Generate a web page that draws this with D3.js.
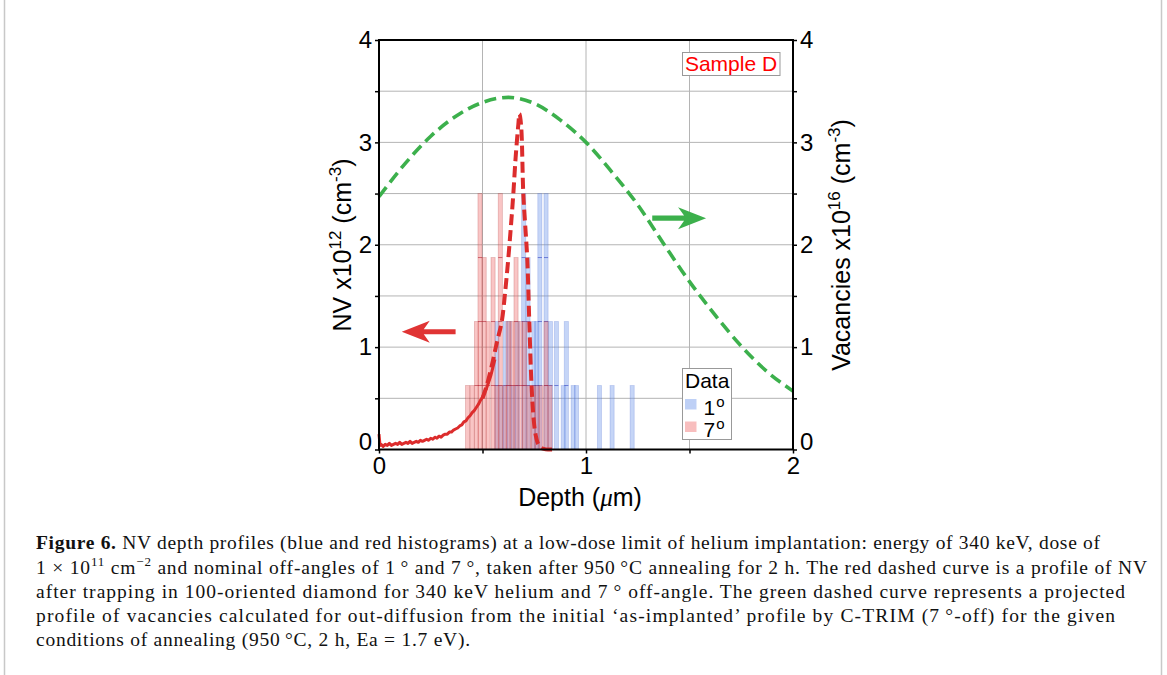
<!DOCTYPE html>
<html><head><meta charset="utf-8">
<script src="https://cdn.jsdelivr.net/npm/d3@7"></script>
<style>
html,body{margin:0;padding:0;background:#fff;}
svg{display:block;}
</style></head>
<body>
<svg id="chart" width="1167" height="675"></svg>
<script>
// ---------------- DATA ----------------
const xTicks = [0, 0.5, 1, 1.5, 2];
const xTickLabels = ["0", "", "1", "", "2"];
const yTicks = [0, 0.5, 1, 1.5, 2, 2.5, 3, 3.5, 4];
const yTickLabels = ["0", "", "1", "", "2", "", "3", "", "4"];
const nvUnit = 0.625;           // height of one histogram count (NV x10^12 cm^-3)
const binWidth = 0.02;          // µm

// 7° histogram (red): bar left edge depth (µm) and NV value
const red7Depth = [0.418, 0.440, 0.461, 0.478, 0.498, 0.517, 0.541, 0.560, 0.576, 0.597, 0.614, 0.633, 0.652, 0.674, 0.693, 0.715, 0.734, 0.754, 0.773, 0.797, 0.816];
const red7NV    = [0.625, 0.625, 1.25, 2.5, 1.875, 1.25, 1.875, 0.625, 2.5, 0.625, 1.25, 1.25, 1.875, 1.25, 1.25, 0.625, 0.625, 0.625, 0.625, 1.25, 0.625];

// 1° histogram (blue)
const blue1Depth = [0.560, 0.582, 0.601, 0.621, 0.640, 0.659, 0.689, 0.710, 0.738, 0.752, 0.767, 0.797, 0.818, 0.847, 0.880, 0.895, 0.928, 0.944, 1.055, 1.116, 1.213];
const blue1NV    = [1.25, 0.625, 1.25, 1.25, 0.625, 1.25, 2.5, 1.875, 1.25, 1.25, 2.5, 2.5, 1.25, 1.25, 0.625, 1.25, 0.625, 0.625, 0.625, 0.625, 0.625];

// NV profile (red, measured part – solid)
const nvDepth = [0, 0.005, 0.01, 0.02, 0.03, 0.04, 0.05, 0.06, 0.07, 0.08, 0.09, 0.10, 0.11, 0.12, 0.13, 0.14, 0.15, 0.16, 0.17, 0.18, 0.19, 0.20, 0.21, 0.22, 0.23, 0.24, 0.25, 0.26, 0.27, 0.28, 0.29, 0.30, 0.31, 0.32, 0.33, 0.34, 0.35, 0.36, 0.37, 0.38, 0.39, 0.40, 0.41, 0.42, 0.43, 0.44, 0.45, 0.46, 0.47, 0.48, 0.49, 0.50, 0.51, 0.52, 0.53, 0.54, 0.55, 0.56];
const nvValue = [0.15, 0.04, 0.05, 0.03, 0.05, 0.04, 0.06, 0.04, 0.05, 0.06, 0.05, 0.07, 0.05, 0.06, 0.07, 0.06, 0.08, 0.06, 0.07, 0.08, 0.07, 0.09, 0.08, 0.09, 0.10, 0.09, 0.11, 0.10, 0.12, 0.11, 0.13, 0.12, 0.14, 0.15, 0.15, 0.17, 0.17, 0.19, 0.20, 0.21, 0.23, 0.24, 0.27, 0.28, 0.31, 0.33, 0.36, 0.38, 0.41, 0.44, 0.48, 0.51, 0.56, 0.60, 0.66, 0.72, 0.80, 0.88];

// NV trapping profile (red dashed)
const trapDepth = [0.50, 0.52, 0.545, 0.57, 0.593, 0.61, 0.625, 0.638, 0.649, 0.66, 0.672, 0.679, 0.687, 0.697, 0.706, 0.716, 0.726, 0.737, 0.747, 0.756, 0.77, 0.79, 0.836];
const trapNV    = [0.50, 0.62, 0.82, 1.05, 1.25, 1.55, 1.875, 2.2, 2.5, 2.85, 3.15, 3.28, 3.15, 2.5, 2.2, 1.875, 1.25, 0.625, 0.30, 0.15, 0.05, 0.01, 0.0];

// Vacancies (green dashed, right axis x10^16 cm^-3)
const vacDepth = [0, 0.125, 0.25, 0.375, 0.5, 0.625, 0.75, 0.875, 1.0, 1.125, 1.25, 1.375, 1.5, 1.625, 1.75, 1.875, 2.0];
const vacValue = [2.47, 2.79, 3.06, 3.26, 3.39, 3.44, 3.38, 3.22, 3.00, 2.71, 2.39, 2.01, 1.64, 1.31, 1.01, 0.76, 0.57];

// ---------------- DRAW ----------------
const svg = d3.select("#chart");
const L = 379, R = 793, T = 40, B = 449.5;
const x = d3.scaleLinear().domain([0, 2]).range([L, R]);
const y = d3.scaleLinear().domain([0, 4]).range([B, T]);
const yR = d3.scaleLinear().domain([0, 4]).range([B, T]);
const sans = "'Liberation Sans', Arial, sans-serif";
const serif = "'Liberation Serif', 'Times New Roman', serif";

// page border
svg.append("line").attr("x1", 4.5).attr("x2", 4.5).attr("y1", 0).attr("y2", 675).attr("stroke", "#c8c8c8").attr("stroke-width", 1.5);
svg.append("line").attr("x1", 1161.5).attr("x2", 1161.5).attr("y1", 0).attr("y2", 675).attr("stroke", "#c8c8c8").attr("stroke-width", 1.5);

// grid
const grid = svg.append("g");
grid.selectAll("line.gx").data(xTicks.slice(1, -1)).join("line")
  .attr("x1", d => x(d)).attr("x2", d => x(d)).attr("y1", T).attr("y2", B)
  .attr("stroke", "#b4b4b4").attr("stroke-width", 1);
grid.selectAll("line.gy").data(yTicks.slice(1, -1)).join("line")
  .attr("y1", d => y(d)).attr("y2", d => y(d)).attr("x1", L).attr("x2", R)
  .attr("stroke", "#b4b4b4").attr("stroke-width", 1);

// histograms
function drawHist(depths, vals, fill, lineColor, stroke) {
  const g = svg.append("g");
  const data = depths.map((d, i) => ({ d, v: vals[i] }));
  g.selectAll("rect").data(data).join("rect")
    .attr("x", p => x(p.d)).attr("width", x(binWidth) - x(0))
    .attr("y", p => y(p.v)).attr("height", p => y(0) - y(p.v))
    .attr("fill", fill).attr("fill-opacity", 0.4)
    .attr("stroke", stroke).attr("stroke-opacity", 0.25).attr("stroke-width", 0.8);
  const lines = [];
  data.forEach(p => {
    const n = Math.round(p.v / nvUnit);
    for (let k = 1; k < n; k++) lines.push({ d: p.d, v: k * nvUnit });
  });
  g.selectAll("line").data(lines).join("line")
    .attr("x1", p => x(p.d)).attr("x2", p => x(p.d + binWidth))
    .attr("y1", p => y(p.v)).attr("y2", p => y(p.v))
    .attr("stroke", lineColor).attr("stroke-opacity", 0.6).attr("stroke-width", 1);
}
drawHist(blue1Depth, blue1NV, "rgb(110,150,235)", "#3040c0", "#4060d0");
drawHist(red7Depth, red7NV, "rgb(240,110,110)", "#b02030", "#a01818");

// green vacancies curve
svg.append("path")
  .datum(vacDepth.map((d, i) => [d, vacValue[i]]))
  .attr("d", d3.line().x(p => x(p[0])).y(p => yR(p[1])).curve(d3.curveMonotoneX))
  .attr("fill", "none").attr("stroke", "#3cb04c").attr("stroke-width", 3.6)
  .attr("stroke-dasharray", "12,6");

// red solid NV profile
svg.append("path")
  .datum(nvDepth.map((d, i) => [d, nvValue[i]]))
  .attr("d", d3.line().x(p => x(p[0])).y(p => y(p[1])))
  .attr("fill", "none").attr("stroke", "#dc2c2c").attr("stroke-width", 3).attr("stroke-linejoin", "round");

// red dashed trap profile
svg.append("path")
  .datum(trapDepth.map((d, i) => [d, trapNV[i]]))
  .attr("d", d3.line().x(p => x(p[0])).y(p => y(p[1])).curve(d3.curveCatmullRom))
  .attr("fill", "none").attr("stroke", "#dc2c2c").attr("stroke-width", 4)
  .attr("stroke-dasharray", "11,5");

// arrows (data coordinates)
function arrow(x0, x1, yv, color, sc) {
  const dir = Math.sign(x1 - x0);
  const px0 = x(x0), px1 = x(x1), py = sc(yv);
  const headLen = 28, headH = 11, shaft = 2.6;
  const hb = px1 - dir * headLen;
  svg.append("path")
    .attr("d", `M${px0},${py - shaft} L${hb + dir * 6},${py - shaft} L${hb},${py - headH} L${px1},${py} L${hb},${py + headH} L${hb + dir * 6},${py + shaft} L${px0},${py + shaft} Z`)
    .attr("fill", color);
}
arrow(0.37, 0.11, 1.15, "#e03434", y);
arrow(1.32, 1.58, 2.26, "#3cb04c", yR);

// axes frame
svg.append("rect").attr("x", L).attr("y", T).attr("width", R - L).attr("height", B - T)
  .attr("fill", "none").attr("stroke", "#000").attr("stroke-width", 2);

const axL = d3.axisLeft(y).tickValues(yTicks).tickFormat((d, i) => yTickLabels[i]).tickSize(4).tickPadding(3);
const axR = d3.axisRight(yR).tickValues(yTicks).tickFormat((d, i) => yTickLabels[i]).tickSize(4).tickPadding(3);
const axB = d3.axisBottom(x).tickValues(xTicks).tickFormat((d, i) => xTickLabels[i]).tickSize(4).tickPadding(3);
function styleAxis(g) {
  g.attr("font-size", null).attr("font-family", null);
  g.select(".domain").remove();
  g.selectAll(".tick line").attr("stroke", "#000").attr("stroke-width", 1.5);
  g.selectAll(".tick text").style("font-family", sans).style("font-size", "24px").attr("fill", "#000");
}
svg.append("g").attr("transform", `translate(${L},0)`).call(axL).call(styleAxis)
  .selectAll(".tick text").filter(d => d === 0).attr("dy", "0.0em");
svg.append("g").attr("transform", `translate(${R},0)`).call(axR).call(styleAxis)
  .selectAll(".tick text").filter(d => d === 0).attr("dy", "0.0em");
svg.append("g").attr("transform", `translate(0,${B})`).call(axB).call(styleAxis);

// axis titles
const yl = svg.append("text").attr("transform", `translate(351,245) rotate(-90)`)
  .attr("text-anchor", "middle").style("font-family", sans).style("font-size", "25px").attr("fill", "#000");
yl.append("tspan").text("NV x10");
yl.append("tspan").attr("dy", -10).style("font-size", "17px").text("12");
yl.append("tspan").attr("dy", 10).text(" (cm");
yl.append("tspan").attr("dy", -10).style("font-size", "17px").text("-3");
yl.append("tspan").attr("dy", 10).text(")");

const yr = svg.append("text").attr("transform", `translate(850,245) rotate(-90)`)
  .attr("text-anchor", "middle").style("font-family", sans).style("font-size", "25px").attr("fill", "#000");
yr.append("tspan").text("Vacancies x10");
yr.append("tspan").attr("dy", -10).style("font-size", "17px").text("16");
yr.append("tspan").attr("dy", 10).text(" (cm");
yr.append("tspan").attr("dy", -10).style("font-size", "17px").text("-3");
yr.append("tspan").attr("dy", 10).text(")");

const xl = svg.append("text").attr("x", x(1) - 6).attr("y", 506).attr("text-anchor", "middle")
  .style("font-family", sans).style("font-size", "25px").attr("fill", "#000");
xl.append("tspan").text("Depth (");
xl.append("tspan").attr("font-style", "italic").style("font-family", serif).text("\u03BC");
xl.append("tspan").text("m)");

// Sample D label
svg.append("rect").attr("x", 682.5).attr("y", 52.5).attr("width", 97.5).attr("height", 23)
  .attr("fill", "#fff").attr("stroke", "#999").attr("stroke-width", 1);
svg.append("text").attr("x", 731).attr("y", 71).attr("text-anchor", "middle")
  .style("font-family", sans).style("font-size", "21px").attr("fill", "#ff0000").text("Sample D");

// legend
const lg = svg.append("g");
lg.append("rect").attr("x", 682.5).attr("y", 368.5).attr("width", 49).attr("height", 71)
  .attr("fill", "#fff").attr("stroke", "#999").attr("stroke-width", 1);
lg.append("text").attr("x", 685).attr("y", 388).style("font-family", sans).style("font-size", "21px").text("Data");
const legItems = [{ c: "rgb(110,150,235)", t: "1", yy: 399 }, { c: "rgb(240,110,110)", t: "7", yy: 421.5 }];
legItems.forEach(it => {
  lg.append("rect").attr("x", 685).attr("y", it.yy).attr("width", 11.5).attr("height", 10.5)
    .attr("fill", it.c).attr("fill-opacity", 0.45);
  const tt = lg.append("text").attr("x", 703.5).attr("y", it.yy + 15.5).style("font-family", sans).style("font-size", "21px");
  tt.append("tspan").text(it.t);
  tt.append("tspan").attr("dy", -8).attr("dx", 1).style("font-size", "15px").text("o");
});

// caption
const capLines = [
  { y: 549, w: 1064, parts: [["Figure 6.", "b"], [" NV depth profiles (blue and red histograms) at a low-dose limit of helium implantation: energy of 340 keV, dose of", "n"]] },
  { y: 573.5, w: 1111, parts: [["1 \u00D7 10", "n"], ["11", "s"], [" cm", "n"], ["\u22122", "s"], [" and nominal off-angles of 1\u2009\u00B0 and 7\u2009\u00B0, taken after 950\u2009\u00B0C annealing for 2 h. The red dashed curve is a profile of NV", "n"]] },
  { y: 598, w: 1089, parts: [["after trapping in 100-oriented diamond for 340 keV helium and 7\u2009\u00B0 off-angle. The green dashed curve represents a projected", "n"]] },
  { y: 622, w: 1079, parts: [["profile of vacancies calculated for out-diffusion from the initial \u2018as-implanted\u2019 profile by C-TRIM (7\u2009\u00B0-off) for the given", "n"]] },
  { y: 646, w: 434, parts: [["conditions of annealing (950\u2009\u00B0C, 2 h, Ea = 1.7 eV).", "n"]] }
];
capLines.forEach(ln => {
  const t = svg.append("text").attr("x", 36).attr("y", ln.y).style("font-family", serif)
    .style("font-size", "19.5px").attr("fill", "#111")
    .attr("textLength", ln.w).attr("lengthAdjust", "spacing");
  let up = false;
  ln.parts.forEach(p => {
    const ts = t.append("tspan").text(p[0]);
    if (p[1] === "b") ts.attr("font-weight", "bold");
    if (p[1] === "s") { ts.style("font-size", "13px").attr("dy", up ? 0 : -8); up = true; }
    else if (up) { ts.attr("dy", 8); up = false; }
  });
});
</script>
</body></html>
